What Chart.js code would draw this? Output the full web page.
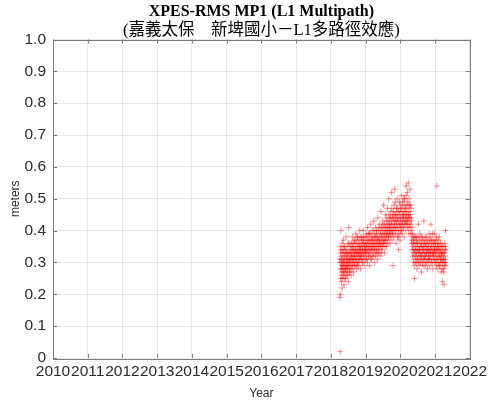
<!DOCTYPE html>
<html>
<head>
<meta charset="utf-8">
<script src="https://cdn.jsdelivr.net/npm/chart.js@4/dist/chart.umd.min.js"></script>
<style>
  html, body { margin: 0; padding: 0; background: #fff; }
  #wrap { width: 491px; height: 403px; }
</style>
</head>
<body>
<div id="wrap"><canvas id="c" width="491" height="403"></canvas></div>
<script>
// ---- text and ticks ----
const titleText = "XPES-RMS MP1 (L1 Multipath)";
const subtitleText = "(嘉義太保　新埤國小－L1多路徑效應)";
const yearTicks = [2010,2011,2012,2013,2014,2015,2016,2017,2018,2019,2020,2021,2022];
const meterTicks = [0,0.1,0.2,0.3,0.4,0.5,0.6,0.7,0.8,0.9,1.0];

// ---- data: [decimal year, meters] ----
const seg2018 = [[2018.26,0.31],[2018.26,0.19],[2018.27,0.02],[2018.27,0.20],[2018.27,0.35],[2018.28,0.28],[2018.28,0.33],[2018.29,0.40],[2018.29,0.30],[2018.30,0.26],[2018.30,0.32],[2018.31,0.24],[2018.31,0.29],[2018.32,0.34],[2018.32,0.27],[2018.33,0.31],[2018.33,0.36],[2018.34,0.25],[2018.34,0.30],[2018.35,0.33],[2018.35,0.28],[2018.36,0.37],[2018.36,0.26],[2018.37,0.31],[2018.37,0.29],[2018.38,0.34],[2018.38,0.23],[2018.39,0.30],[2018.40,0.27],[2018.40,0.35],[2018.41,0.32],[2018.42,0.28],[2018.42,0.25],[2018.43,0.30],[2018.44,0.33],[2018.44,0.38],[2018.45,0.29],[2018.46,0.26],[2018.46,0.31],[2018.47,0.35],[2018.48,0.28],[2018.48,0.32],[2018.49,0.30],[2018.50,0.24],[2018.50,0.36],[2018.51,0.41],[2018.52,0.29],[2018.52,0.33],[2018.53,0.27],[2018.54,0.31],[2018.55,0.35],[2018.55,0.30],[2018.56,0.28],[2018.57,0.34],[2018.58,0.32],[2018.58,0.26],[2018.59,0.36],[2018.60,0.30],[2018.61,0.33],[2018.62,0.38],[2018.62,0.29],[2018.63,0.35],[2018.64,0.31],[2018.65,0.27],[2018.66,0.34],[2018.67,0.37],[2018.67,0.30],[2018.68,0.32],[2018.69,0.36],[2018.70,0.29],[2018.71,0.34],[2018.72,0.39],[2018.72,0.31],[2018.73,0.33],[2018.74,0.28],[2018.75,0.36],[2018.76,0.32],[2018.77,0.38],[2018.77,0.30],[2018.78,0.35],[2018.79,0.33],[2018.80,0.29],[2018.81,0.37],[2018.82,0.34],[2018.82,0.31],[2018.83,0.40],[2018.84,0.35],[2018.85,0.32],[2018.86,0.28],[2018.87,0.36],[2018.87,0.33],[2018.88,0.38],[2018.89,0.31],[2018.90,0.35],[2018.91,0.30],[2018.92,0.37],[2018.92,0.34],[2018.93,0.40],[2018.94,0.32],[2018.95,0.36],[2018.96,0.29],[2018.97,0.34],[2018.98,0.38],[2018.99,0.33]];
const extra2018 = [[2018.265,0.30],[2018.285,0.25],[2018.295,0.34],[2018.305,0.28],[2018.315,0.31],[2018.325,0.22],[2018.335,0.29],[2018.345,0.33],[2018.355,0.27],[2018.365,0.30],[2018.375,0.35],[2018.385,0.28],[2018.395,0.32],[2018.405,0.25],[2018.415,0.29],[2018.425,0.34],[2018.435,0.27],[2018.445,0.31],[2018.455,0.33],[2018.465,0.28],[2018.475,0.30],[2018.485,0.26],[2018.495,0.33],[2018.505,0.29],[2018.515,0.31],[2018.525,0.36],[2018.535,0.30],[2018.545,0.27],[2018.555,0.33],[2018.565,0.31],[2018.575,0.29],[2018.585,0.34],[2018.595,0.32],[2018.605,0.28],[2018.615,0.35],[2018.625,0.31],[2018.635,0.33],[2018.645,0.36],[2018.655,0.30],[2018.665,0.32],[2018.675,0.34],[2018.685,0.29],[2018.695,0.33],[2018.705,0.37],[2018.715,0.31],[2018.725,0.35],[2018.735,0.30],[2018.745,0.33],[2018.755,0.38],[2018.765,0.29],[2018.775,0.34],[2018.785,0.31],[2018.795,0.36],[2018.805,0.33],[2018.815,0.30],[2018.825,0.35],[2018.835,0.32],[2018.845,0.38],[2018.855,0.34],[2018.865,0.31],[2018.875,0.35],[2018.885,0.33],[2018.895,0.37],[2018.905,0.32],[2018.915,0.34],[2018.925,0.30],[2018.935,0.36],[2018.945,0.38],[2018.955,0.33],[2018.965,0.35],[2018.975,0.31],[2018.985,0.36],[2018.995,0.34]];

const seg2019 = [[2019.00,0.35],[2019.01,0.31],[2019.02,0.39],[2019.03,0.33],[2019.04,0.36],[2019.05,0.30],[2019.06,0.41],[2019.07,0.34],[2019.08,0.37],[2019.09,0.32],[2019.10,0.35],[2019.11,0.39],[2019.12,0.29],[2019.13,0.36],[2019.14,0.33],[2019.15,0.42],[2019.16,0.37],[2019.17,0.31],[2019.18,0.35],[2019.19,0.40],[2019.20,0.34],[2019.21,0.38],[2019.22,0.32],[2019.23,0.36],[2019.24,0.43],[2019.25,0.35],[2019.26,0.30],[2019.27,0.38],[2019.28,0.34],[2019.29,0.41],[2019.30,0.36],[2019.31,0.33],[2019.32,0.39],[2019.33,0.37],[2019.34,0.31],[2019.35,0.44],[2019.36,0.35],[2019.37,0.40],[2019.38,0.33],[2019.39,0.37],[2019.40,0.42],[2019.41,0.36],[2019.42,0.32],[2019.43,0.39],[2019.44,0.46],[2019.45,0.35],[2019.46,0.41],[2019.47,0.38],[2019.48,0.34],[2019.49,0.43],[2019.50,0.37],[2019.51,0.40],[2019.52,0.48],[2019.53,0.36],[2019.54,0.42],[2019.55,0.33],[2019.56,0.39],[2019.57,0.45],[2019.58,0.37],[2019.59,0.41],[2019.60,0.35],[2019.61,0.43],[2019.62,0.39],[2019.63,0.47],[2019.64,0.36],[2019.65,0.42],[2019.66,0.38],[2019.67,0.50],[2019.68,0.40],[2019.69,0.44],[2019.70,0.36],[2019.71,0.41],[2019.72,0.46],[2019.73,0.39],[2019.74,0.43],[2019.75,0.52],[2019.76,0.37],[2019.77,0.45],[2019.78,0.40],[2019.79,0.29],[2019.80,0.44],[2019.81,0.38],[2019.82,0.48],[2019.83,0.42],[2019.84,0.53],[2019.85,0.39],[2019.86,0.45],[2019.87,0.41],[2019.88,0.36],[2019.89,0.47],[2019.90,0.43],[2019.91,0.50],[2019.92,0.38],[2019.93,0.44],[2019.94,0.40],[2019.95,0.34],[2019.96,0.46],[2019.97,0.42],[2019.98,0.49],[2019.99,0.37]];
const extra2019 = [[2019.005,0.33],[2019.015,0.37],[2019.025,0.35],[2019.035,0.31],[2019.045,0.38],[2019.055,0.34],[2019.065,0.36],[2019.075,0.32],[2019.085,0.39],[2019.095,0.35],[2019.105,0.33],[2019.115,0.37],[2019.125,0.34],[2019.135,0.39],[2019.145,0.31],[2019.155,0.35],[2019.165,0.38],[2019.175,0.34],[2019.185,0.36],[2019.195,0.32],[2019.205,0.37],[2019.215,0.35],[2019.225,0.40],[2019.235,0.33],[2019.245,0.37],[2019.255,0.34],[2019.265,0.39],[2019.275,0.36],[2019.285,0.32],[2019.295,0.38],[2019.305,0.35],[2019.315,0.40],[2019.325,0.34],[2019.335,0.36],[2019.345,0.38],[2019.355,0.33],[2019.365,0.37],[2019.375,0.35],[2019.385,0.41],[2019.395,0.34],[2019.405,0.38],[2019.415,0.36],[2019.425,0.40],[2019.435,0.35],[2019.445,0.37],[2019.455,0.33],[2019.465,0.39],[2019.475,0.36],[2019.485,0.41],[2019.495,0.35],[2019.505,0.38],[2019.515,0.36],[2019.525,0.42],[2019.535,0.39],[2019.545,0.37],[2019.555,0.40],[2019.565,0.35],[2019.575,0.41],[2019.585,0.38],[2019.595,0.44],[2019.605,0.39],[2019.615,0.37],[2019.625,0.41],[2019.635,0.40],[2019.645,0.43],[2019.655,0.38],[2019.665,0.45],[2019.675,0.41],[2019.685,0.39],[2019.695,0.42],[2019.705,0.40],[2019.715,0.44],[2019.725,0.38],[2019.735,0.42],[2019.745,0.40],[2019.755,0.47],[2019.765,0.42],[2019.775,0.39],[2019.785,0.44],[2019.795,0.41],[2019.805,0.46],[2019.815,0.40],[2019.825,0.43],[2019.835,0.45],[2019.845,0.41],[2019.855,0.49],[2019.865,0.43],[2019.875,0.40],[2019.885,0.45],[2019.895,0.42],[2019.905,0.47],[2019.915,0.44],[2019.925,0.41],[2019.935,0.46],[2019.945,0.38],[2019.955,0.43],[2019.965,0.39],[2019.975,0.45],[2019.985,0.41],[2019.995,0.48]];

const seg2020 = [[2020.00,0.44],[2020.01,0.40],[2020.02,0.47],[2020.03,0.42],[2020.04,0.51],[2020.05,0.39],[2020.06,0.45],[2020.07,0.43],[2020.08,0.48],[2020.09,0.41],[2020.10,0.46],[2020.11,0.38],[2020.12,0.50],[2020.13,0.44],[2020.14,0.42],[2020.15,0.47],[2020.16,0.40],[2020.17,0.54],[2020.18,0.45],[2020.19,0.43],[2020.20,0.49],[2020.21,0.41],[2020.22,0.46],[2020.23,0.55],[2020.24,0.44],[2020.25,0.39],[2020.26,0.48],[2020.27,0.42],[2020.28,0.53],[2020.29,0.45],[2020.30,0.40],[2020.31,0.47],[2020.32,0.43],[2020.33,0.37],[2020.34,0.41],[2020.35,0.35],[2020.36,0.39],[2020.37,0.33],[2020.38,0.37],[2020.39,0.31],[2020.40,0.36],[2020.41,0.25],[2020.42,0.34],[2020.43,0.38],[2020.44,0.30],[2020.45,0.35],[2020.46,0.32],[2020.47,0.37],[2020.48,0.28],[2020.49,0.34],[2020.50,0.36],[2020.51,0.31],[2020.52,0.42],[2020.53,0.33],[2020.54,0.29],[2020.55,0.37],[2020.56,0.34],[2020.57,0.30],[2020.58,0.36],[2020.59,0.32],[2020.60,0.38],[2020.61,0.27],[2020.62,0.35],[2020.63,0.33],[2020.64,0.30],[2020.65,0.37],[2020.66,0.34],[2020.67,0.31],[2020.68,0.43],[2020.69,0.36],[2020.70,0.32],[2020.71,0.29],[2020.72,0.35],[2020.73,0.38],[2020.74,0.33],[2020.75,0.30],[2020.76,0.36],[2020.77,0.34],[2020.78,0.28],[2020.79,0.37],[2020.80,0.32],[2020.81,0.35],[2020.82,0.31],[2020.83,0.39],[2020.84,0.33],[2020.85,0.29],[2020.86,0.36],[2020.87,0.34],[2020.88,0.42],[2020.89,0.31],[2020.90,0.35],[2020.91,0.37],[2020.92,0.30],[2020.93,0.33],[2020.94,0.28],[2020.95,0.36],[2020.96,0.32],[2020.97,0.34],[2020.98,0.39],[2020.99,0.31]];
const extra2020 = [[2020.005,0.42],[2020.015,0.46],[2020.025,0.44],[2020.035,0.40],[2020.045,0.47],[2020.055,0.43],[2020.065,0.49],[2020.075,0.41],[2020.085,0.45],[2020.095,0.44],[2020.105,0.50],[2020.115,0.42],[2020.125,0.46],[2020.135,0.48],[2020.145,0.43],[2020.155,0.45],[2020.165,0.51],[2020.175,0.42],[2020.185,0.47],[2020.195,0.44],[2020.205,0.52],[2020.215,0.43],[2020.225,0.48],[2020.235,0.45],[2020.245,0.41],[2020.255,0.50],[2020.265,0.44],[2020.275,0.46],[2020.285,0.42],[2020.295,0.48],[2020.305,0.44],[2020.315,0.39],[2020.325,0.36],[2020.335,0.34],[2020.345,0.38],[2020.355,0.32],[2020.365,0.36],[2020.375,0.30],[2020.385,0.34],[2020.395,0.38],[2020.405,0.33],[2020.415,0.29],[2020.425,0.36],[2020.435,0.32],[2020.445,0.34],[2020.455,0.38],[2020.465,0.30],[2020.475,0.33],[2020.485,0.36],[2020.495,0.31],[2020.505,0.34],[2020.515,0.38],[2020.525,0.30],[2020.535,0.35],[2020.545,0.32],[2020.555,0.34],[2020.565,0.39],[2020.575,0.33],[2020.585,0.30],[2020.595,0.35],[2020.605,0.32],[2020.615,0.36],[2020.625,0.31],[2020.635,0.38],[2020.645,0.34],[2020.655,0.29],[2020.665,0.35],[2020.675,0.33],[2020.685,0.37],[2020.695,0.31],[2020.705,0.34],[2020.715,0.36],[2020.725,0.32],[2020.735,0.30],[2020.745,0.35],[2020.755,0.33],[2020.765,0.38],[2020.775,0.31],[2020.785,0.34],[2020.795,0.36],[2020.805,0.30],[2020.815,0.33],[2020.825,0.35],[2020.835,0.31],[2020.845,0.37],[2020.855,0.34],[2020.865,0.32],[2020.875,0.38],[2020.885,0.33],[2020.895,0.30],[2020.905,0.36],[2020.915,0.34],[2020.925,0.39],[2020.935,0.32],[2020.945,0.35],[2020.955,0.33],[2020.965,0.37],[2020.975,0.30],[2020.985,0.34],[2020.995,0.36]];

const seg2021 = [[2021.00,0.35],[2021.01,0.30],[2021.02,0.33],[2021.03,0.37],[2021.04,0.29],[2021.05,0.54],[2021.05,0.34],[2021.06,0.31],[2021.07,0.36],[2021.08,0.28],[2021.09,0.33],[2021.10,0.35],[2021.11,0.30],[2021.12,0.38],[2021.13,0.32],[2021.14,0.29],[2021.15,0.34],[2021.16,0.31],[2021.17,0.36],[2021.18,0.27],[2021.19,0.33],[2021.20,0.30],[2021.21,0.24],[2021.22,0.35],[2021.23,0.31],[2021.24,0.28],[2021.25,0.33],[2021.26,0.23],[2021.27,0.30],[2021.28,0.36],[2021.29,0.32],[2021.30,0.40],[2021.31,0.29],[2021.31,0.34]];
const extra2021 = [[2021.005,0.33],[2021.015,0.36],[2021.025,0.31],[2021.035,0.34],[2021.045,0.38],[2021.055,0.32],[2021.065,0.35],[2021.075,0.30],[2021.085,0.34],[2021.095,0.37],[2021.105,0.32],[2021.115,0.35],[2021.125,0.29],[2021.135,0.34],[2021.145,0.36],[2021.155,0.31],[2021.165,0.33],[2021.175,0.30],[2021.185,0.35],[2021.195,0.32],[2021.205,0.28],[2021.215,0.33],[2021.225,0.30],[2021.235,0.35],[2021.245,0.31],[2021.255,0.27],[2021.265,0.33],[2021.275,0.29],[2021.285,0.34],[2021.295,0.31],[2021.305,0.35],[2021.31,0.30]];

const toPoints = seg => seg.map(p => ({x: p[0], y: p[1]}));
const allPoints = [].concat(
  toPoints(seg2018), toPoints(extra2018),
  toPoints(seg2019), toPoints(extra2019),
  toPoints(seg2020), toPoints(extra2020),
  toPoints(seg2021), toPoints(extra2021)
);

// Titles centred over the plot area (MATLAB style)
const titlePlugin = {
  id: 'areaTitle',
  afterDraw(chart) {
    const {ctx, chartArea: a} = chart;
    const cx = (a.left + a.right) / 2;
    ctx.save();
    ctx.fillStyle = '#000';
    ctx.textAlign = 'center';
    ctx.textBaseline = 'middle';
    ctx.font = "bold 16px 'Liberation Serif', 'Times New Roman', serif";
    ctx.fillText(titleText, cx, 12);
    ctx.font = "16.5px 'Liberation Serif', 'Noto Sans CJK TC', serif";
    ctx.fillText(subtitleText, cx, 31);
    ctx.restore();
  }
};

// MATLAB-style box with inward ticks
const boxPlugin = {
  id: 'matlabBox',
  afterDraw(chart) {
    const {ctx, chartArea: a, scales} = chart;
    ctx.save();
    ctx.strokeStyle = '#7a7a7a';
    ctx.lineWidth = 1;
    ctx.strokeRect(Math.round(a.left) + 0.5, Math.round(a.top) + 0.5,
                   Math.round(a.right - a.left), Math.round(a.bottom - a.top));
    const t = 4;
    ctx.beginPath();
    yearTicks.forEach(v => {
      const x = Math.round(scales.x.getPixelForValue(v)) + 0.5;
      ctx.moveTo(x, a.bottom); ctx.lineTo(x, a.bottom - t);
      ctx.moveTo(x, a.top); ctx.lineTo(x, a.top + t);
    });
    meterTicks.forEach(v => {
      const y = Math.round(scales.y.getPixelForValue(v)) + 0.5;
      ctx.moveTo(a.left, y); ctx.lineTo(a.left + t, y);
      ctx.moveTo(a.right, y); ctx.lineTo(a.right - t, y);
    });
    ctx.stroke();
    ctx.restore();
  }
};

new Chart(document.getElementById('c'), {
  type: 'scatter',
  data: {
    datasets: [{
      label: 'MP1',
      data: allPoints,
      pointStyle: 'cross',
      pointRadius: 3,
      pointBorderWidth: 1,
      borderColor: 'rgba(255,0,0,0.45)',
      backgroundColor: 'rgba(255,0,0,0.45)',
      pointHoverRadius: 3
    }]
  },
  options: {
    responsive: false,
    animation: false,
    devicePixelRatio: 1,
    layout: { padding: { left: 0, right: 19, top: 39.5, bottom: 0 } },
    plugins: {
      legend: { display: false },
      tooltip: { enabled: false },
      title: { display: false },
      subtitle: { display: false }
    },
    scales: {
      x: {
        type: 'linear',
        min: 2010, max: 2022,
        afterBuildTicks: s => { s.ticks = yearTicks.map(v => ({value: v})); },
        ticks: {
          autoSkip: false, maxRotation: 0, minRotation: 0,
          color: '#2b2b2b',
          padding: 4,
          font: { family: "'Liberation Sans', Arial, sans-serif", size: 15.5 },
          callback: v => String(v)
        },
        grid: { color: 'rgba(0,0,0,0.09)', drawTicks: false },
        border: { display: false },
        title: {
          display: true, text: 'Year', color: '#2b2b2b',
          font: { family: "'Liberation Sans', Arial, sans-serif", size: 12 },
          padding: { top: 2, bottom: 2 }
        }
      },
      y: {
        type: 'linear',
        min: 0, max: 1,
        afterBuildTicks: s => { s.ticks = meterTicks.map(v => ({value: v})); },
        afterFit: s => { s.width = 53; },
        ticks: {
          color: '#2b2b2b',
          padding: 7,
          font: { family: "'Liberation Sans', Arial, sans-serif", size: 15.5 },
          callback: v => (v === 0 ? '0' : v.toFixed(1))
        },
        grid: { color: 'rgba(0,0,0,0.09)', drawTicks: false },
        border: { display: false },
        title: {
          display: true, text: 'meters', color: '#2b2b2b',
          font: { family: "'Liberation Sans', Arial, sans-serif", size: 12 },
          padding: { top: 8, bottom: 0 }
        }
      }
    }
  },
  plugins: [boxPlugin, titlePlugin]
});
</script>
</body>
</html>
